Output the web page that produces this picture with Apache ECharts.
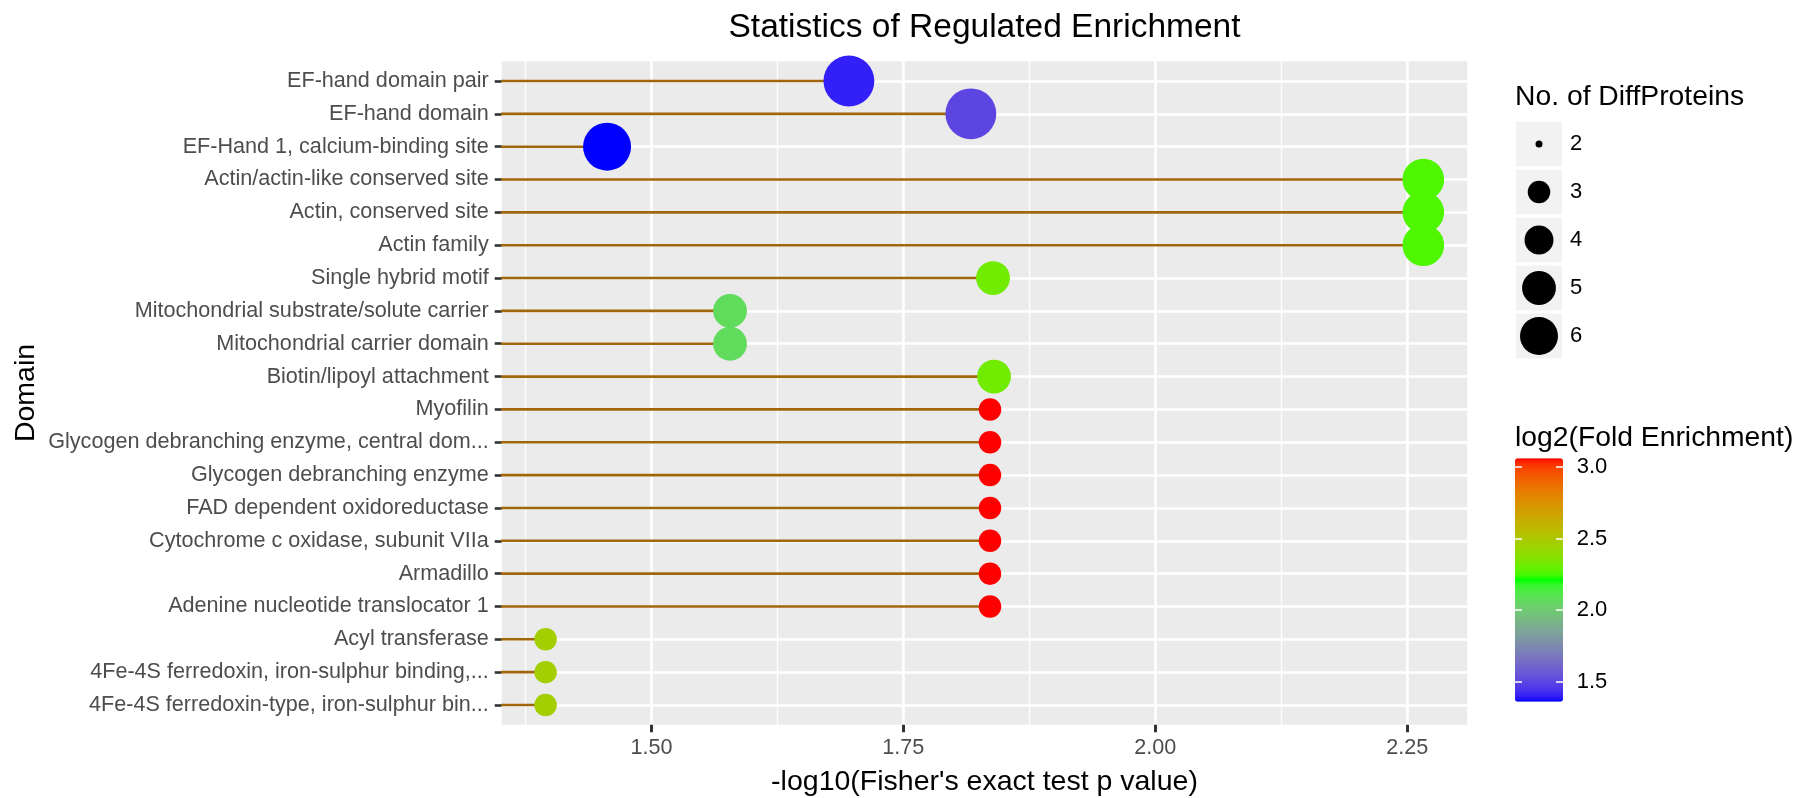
<!DOCTYPE html>
<html><head><meta charset="utf-8">
<script src="https://cdn.jsdelivr.net/npm/echarts@6/dist/echarts.min.js"></script>
<style>html,body{margin:0;padding:0;background:#fff;} #chart{width:1798px;height:798px;}</style>
</head><body><div id="chart"></div>
<script>
const categories = [
  'EF-hand domain pair',
  'EF-hand domain',
  'EF-Hand 1, calcium-binding site',
  'Actin/actin-like conserved site',
  'Actin, conserved site',
  'Actin family',
  'Single hybrid motif',
  'Mitochondrial substrate/solute carrier',
  'Mitochondrial carrier domain',
  'Biotin/lipoyl attachment',
  'Myofilin',
  'Glycogen debranching enzyme, central dom...',
  'Glycogen debranching enzyme',
  'FAD dependent oxidoreductase',
  'Cytochrome c oxidase, subunit VIIa',
  'Armadillo',
  'Adenine nucleotide translocator 1',
  'Acyl transferase',
  '4Fe-4S ferredoxin, iron-sulphur binding,...',
  '4Fe-4S ferredoxin-type, iron-sulphur bin...'
];
const negLog10P = [1.696, 1.817, 1.456, 2.266, 2.266, 2.266, 1.839, 1.578, 1.578, 1.840,
                   1.836, 1.836, 1.836, 1.836, 1.836, 1.836, 1.836, 1.395, 1.395, 1.395];
const diffProteins = [10, 10, 9, 7, 7, 7, 5, 5, 5, 5, 3, 3, 3, 3, 3, 3, 3, 3, 3, 3];
const log2Fold = [1.40, 1.50, 1.36, 2.26, 2.26, 2.26, 2.32, 2.07, 2.07, 2.32,
                  3.06, 3.06, 3.06, 3.06, 3.06, 3.06, 3.06, 2.46, 2.46, 2.46];
const xTicks = [1.50, 1.75, 2.00, 2.25];
const xMinorTicks = [1.375, 1.625, 1.875, 2.125];
const sizeBreaks = [2, 3, 4, 5, 6];
const colorTicks = [1.5, 2.0, 2.5, 3.0];

// ---- scales ----
const pMin = Math.min(...negLog10P), pMax = Math.max(...negLog10P);
const xMin = pMin - 0.05 * (pMax - pMin), xMax = pMax + 0.05 * (pMax - pMin);
const yMinAx = -0.6, yMaxAx = categories.length - 1 + 0.6;
const cMin = Math.min(...log2Fold), cMax = Math.max(...log2Fold);
function sizeFn(n) { return 7 + 15.5 * Math.sqrt(Math.max(0, n - 2)); }

// Lab interpolation blue -> green -> red (like ggplot gradientn)
function s2l(c){c/=255;return c<=0.04045?c/12.92:Math.pow((c+0.055)/1.055,2.4);}
function l2s(c){c=c<=0.0031308?12.92*c:1.055*Math.pow(c,1/2.4)-0.055;return Math.round(Math.max(0,Math.min(1,c))*255);}
const Xn=0.95047,Yn=1,Zn=1.08883;
function f(t){return t>0.008856?Math.cbrt(t):7.787*t+16/116;}
function fi(t){return t>0.206893?t*t*t:(t-16/116)/7.787;}
function rgb2lab(rgb){const R=s2l(rgb[0]),G=s2l(rgb[1]),B=s2l(rgb[2]);
  const X=0.4124*R+0.3576*G+0.1805*B,Y=0.2126*R+0.7152*G+0.0722*B,Z=0.0193*R+0.1192*G+0.9505*B;
  const fx=f(X/Xn),fy=f(Y/Yn),fz=f(Z/Zn);return [116*fy-16,500*(fx-fy),200*(fy-fz)];}
function lab2rgb(lab){const fy=(lab[0]+16)/116,fx=fy+lab[1]/500,fz=fy-lab[2]/200;
  const X=Xn*fi(fx),Y=Yn*fi(fy),Z=Zn*fi(fz);
  const R=3.2406*X-1.5372*Y-0.4986*Z,G=-0.9689*X+1.8758*Y+0.0415*Z,B=0.0557*X-0.2040*Y+1.0570*Z;
  return 'rgb('+l2s(R)+','+l2s(G)+','+l2s(B)+')';}
const stops=[rgb2lab([0,0,255]),rgb2lab([0,255,0]),rgb2lab([255,0,0])];
const gradient=[];
for(let i=0;i<=60;i++){const t=i/60*2;const k=Math.min(1,Math.floor(t));const u=t-k;
  const a=stops[k],b=stops[k+1];gradient.push(lab2rgb([a[0]+(b[0]-a[0])*u,a[1]+(b[1]-a[1])*u,a[2]+(b[2]-a[2])*u]));}

const FONT='"Liberation Sans", Arial, sans-serif';
const chart=echarts.init(document.getElementById('chart'),null,{renderer:'canvas'});

const G0={left:501.7,top:61.3,width:965.5,height:663.4};

const option={
  animation:false,
  backgroundColor:'#ffffff',
  textStyle:{fontFamily:FONT},
  grid:[
    Object.assign({show:true,backgroundColor:'#EBEBEB',borderWidth:0,containLabel:false,outerBoundsMode:'none'},G0),
    {left:1516,top:120,width:46,height:240,show:false,containLabel:false,outerBoundsMode:'none'},
    {left:1515,top:458.3,width:48,height:243.4,show:false,containLabel:false,outerBoundsMode:'none'}
  ],
  xAxis:[
    {type:'value',gridIndex:0,min:xMin,max:xMax,position:'bottom',
     axisLine:{show:false,onZero:false},
     axisTick:{show:true,customValues:xTicks,length:7.5,lineStyle:{color:'#333333',width:3}},
     axisLabel:{show:true,customValues:xTicks,formatter:v=>v.toFixed(2),color:'#4D4D4D',fontSize:21.6,fontFamily:FONT,margin:12},
     splitLine:{show:true,lineStyle:{color:'#FFFFFF',width:2.6}}},
    {type:'value',gridIndex:0,min:xMin,max:xMax,position:'top',
     axisLine:{show:false,onZero:false},
     axisTick:{show:false,customValues:xMinorTicks},
     axisLabel:{show:false,customValues:xMinorTicks},
     splitLine:{show:true,lineStyle:{color:'#FFFFFF',width:1.3}}},
    {type:'value',gridIndex:1,min:0,max:1,show:false,axisLine:{onZero:false}},
    {type:'value',gridIndex:2,min:0,max:1,show:false,axisLine:{onZero:false}}
  ],
  yAxis:[
    {type:'value',gridIndex:0,min:yMinAx,max:yMaxAx,inverse:true,
     axisLine:{show:false,onZero:false},
     axisTick:{show:true,customValues:categories.map((c,i)=>i),length:7,lineStyle:{color:'#333333',width:2.6}},
     axisLabel:{show:true,customValues:categories.map((c,i)=>i),formatter:v=>categories[Math.round(v)],color:'#4D4D4D',fontSize:21.6,fontFamily:FONT,margin:13},
     splitLine:{show:true,lineStyle:{color:'#FFFFFF',width:2.6}}},
    {type:'category',gridIndex:1,data:sizeBreaks.map(String),inverse:true,position:'right',
     axisLine:{show:false,onZero:false},axisTick:{show:false},
     axisLabel:{color:'#000000',fontSize:22,fontFamily:FONT,margin:8},
     splitLine:{show:false}},
    {type:'value',gridIndex:2,min:cMin,max:cMax,position:'right',z:10,
     axisLine:{show:false,onZero:false},
     axisTick:{show:true,inside:true,customValues:colorTicks,length:7,lineStyle:{color:'#FFFFFF',width:1.5}},
     axisLabel:{show:true,customValues:colorTicks,formatter:v=>v.toFixed(1),color:'#000000',fontSize:22,fontFamily:FONT,margin:13.7},
     splitLine:{show:false}},
    {type:'value',gridIndex:2,min:cMin,max:cMax,position:'left',z:10,
     axisLine:{show:false,onZero:false},
     axisTick:{show:true,inside:true,customValues:colorTicks,length:7,lineStyle:{color:'#FFFFFF',width:1.5}},
     axisLabel:{show:false,customValues:colorTicks},
     splitLine:{show:false}}
  ],
  visualMap:[{
    type:'continuous',min:cMin,max:cMax,dimension:3,seriesIndex:1,
    calculable:false,hoverLink:false,realtime:false,
    orient:'vertical',left:1515,top:458.3,itemWidth:48,itemHeight:243.4,padding:0,
    text:null,showLabel:false,
    inRange:{color:gradient}
  }],
  series:[
    {type:'custom',name:'stems',xAxisIndex:0,yAxisIndex:0,clip:true,z:2,silent:true,
     encode:{x:0,y:1},
     data:categories.map((c,i)=>[negLog10P[i],i]),
     renderItem:(params,api)=>{
       const y=api.value(1);
       const p1=api.coord([xMin-1,y]);
       const p2=api.coord([api.value(0),y]);
       return {type:'line',shape:{x1:p1[0],y1:p1[1],x2:p2[0],y2:p2[1]},
               style:{stroke:'#A0660A',lineWidth:2.6}};
     }},
    {type:'scatter',name:'points',xAxisIndex:0,yAxisIndex:0,clip:true,z:3,silent:true,
     data:categories.map((c,i)=>[negLog10P[i],i,diffProteins[i],log2Fold[i]]),
     symbol:'circle',symbolSize:v=>sizeFn(v[2]),
     itemStyle:{opacity:1}},
    {type:'bar',name:'keys',xAxisIndex:2,yAxisIndex:1,silent:true,barWidth:45,
     data:sizeBreaks.map(()=>1),itemStyle:{color:'#F2F2F2'}},
    {type:'scatter',name:'sizeLegend',xAxisIndex:2,yAxisIndex:1,silent:true,z:3,
     data:sizeBreaks.map((s,i)=>[0.5,i,s]),symbol:'circle',symbolSize:v=>sizeFn(v[2]),
     itemStyle:{color:'#000000',opacity:1}}
  ],
  graphic:[
    {type:'text',x:984.5,y:28,silent:true,
     style:{text:'Statistics of Regulated Enrichment',fill:'#000000',font:'33.5px '+FONT,textAlign:'center',align:'center',textVerticalAlign:'middle',verticalAlign:'middle'}},
    {type:'text',x:984.5,y:782,silent:true,
     style:{text:"-log10(Fisher's exact test p value)",fill:'#000000',font:'28.5px '+FONT,textAlign:'center',align:'center',textVerticalAlign:'middle',verticalAlign:'middle'}},
    {type:'text',x:26,y:393,rotation:Math.PI/2,silent:true,
     style:{text:'Domain',fill:'#000000',font:'28.5px '+FONT,textAlign:'center',align:'center',textVerticalAlign:'middle',verticalAlign:'middle'}},
    {type:'text',x:1515,y:97,silent:true,
     style:{text:'No. of DiffProteins',fill:'#000000',font:'28.3px '+FONT,textAlign:'left',align:'left',textVerticalAlign:'middle',verticalAlign:'middle'}},
    {type:'text',x:1515,y:438,silent:true,
     style:{text:'log2(Fold Enrichment)',fill:'#000000',font:'28.3px '+FONT,textAlign:'left',align:'left',textVerticalAlign:'middle',verticalAlign:'middle'}}
  ]
};
chart.setOption(option);
</script>
</body></html>
